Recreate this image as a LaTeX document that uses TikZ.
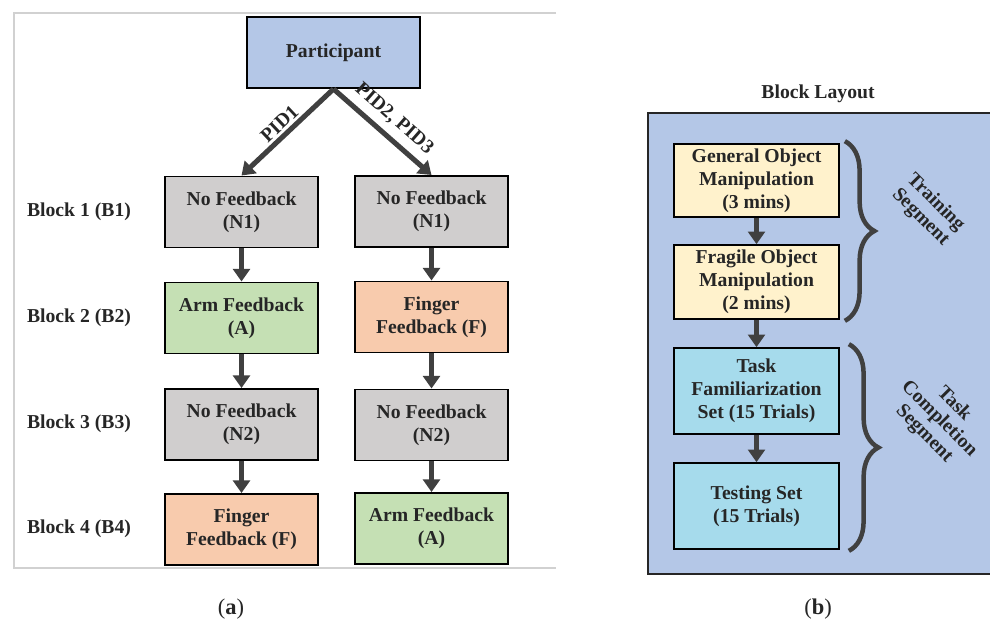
\documentclass[tikz,border=0pt]{standalone}
\usepackage{fontspec}
\setmainfont{Liberation Serif}
\usepackage{tikz}
\usetikzlibrary{arrows.meta, calc, decorations.pathreplacing}

\definecolor{partblue}{HTML}{B4C7E7}
\definecolor{nofbgray}{HTML}{D0CECE}
\definecolor{armgreen}{HTML}{C5E0B4}
\definecolor{fingerorange}{HTML}{F8CBAD}
\definecolor{trainyellow}{HTML}{FFF2CC}
\definecolor{taskcyan}{HTML}{A6DBEC}
\definecolor{arrowgray}{HTML}{404040}
\definecolor{textgray}{HTML}{262626}

\begin{document}
\begin{tikzpicture}[x=0.025cm, y=-0.025cm,
    every node/.style={text=textgray, font=\fontsize{14}{16.5}\selectfont\bfseries, align=center},
    box/.style={draw=black, line width=1.4pt, minimum width=153*0.025cm, minimum height=71*0.025cm, inner sep=1pt},
    stepbox/.style={draw=black, line width=1.2pt, minimum width=165*0.025cm, inner sep=1pt},
    flow/.style={draw=arrowgray, line width=3.6pt, -{Triangle[length=9pt, width=12pt]}},
    curly/.style={draw=arrowgray, line width=3.2pt, decorate, decoration={brace, amplitude=21pt, aspect=0.5}}]

    \useasboundingbox (0,0) rectangle (990,626);

    % Frame of panel (a), open on the right
    \draw[black!18, line width=0.8pt] (556,13) -- (14,13) -- (14,568) -- (556,568);

    % Participant and the two orders of blocks
    \node[box, fill=partblue, minimum width=173*0.025cm] (part) at (333.5,52.5) {Participant};

    \node[box, fill=nofbgray] (l1) at (241.5,212) {No Feedback\\(N1)};
    \node[box, fill=armgreen] (l2) at (241.5,318) {Arm Feedback\\(A)};
    \node[box, fill=nofbgray] (l3) at (241.5,424.5) {No Feedback\\(N2)};
    \node[box, fill=fingerorange] (l4) at (241.5,529.5) {Finger\\Feedback (F)};

    \node[box, fill=nofbgray] (r1) at (431.5,211.5) {No Feedback\\(N1)};
    \node[box, fill=fingerorange] (r2) at (431.5,317) {Finger\\Feedback (F)};
    \node[box, fill=nofbgray] (r3) at (431.5,425) {No Feedback\\(N2)};
    \node[box, fill=armgreen] (r4) at (431.5,528.5) {Arm Feedback\\(A)};

    % Block labels
    \node (b1) at (79,212) {Block 1 (B1)};
    \node (b2) at (79,318) {Block 2 (B2)};
    \node (b3) at (79,424) {Block 3 (B3)};
    \node (b4) at (79,529) {Block 4 (B4)};

    % Arrows
    \draw[flow] (part.south) -- node[sloped, above, inner sep=2pt] {PID1} (l1.north);
    \draw[flow] (part.south) -- node[sloped, above, inner sep=5pt] {PID2, PID3} (r1.north);
    \foreach \a/\b in {l1/l2, l2/l3, l3/l4, r1/r2, r2/r3, r3/r4}
        \draw[flow] (\a.south) -- (\b.north);

    \node[font=\fontsize{16}{18}\selectfont] (capa) at (231,609) {(\textbf{a})};

    % Panel (b): block layout
    \node (title) at (818,94) {Block Layout};
    \fill[partblue] (648,113) rectangle (995,574);
    \draw[black!85, line width=1.2pt] (995,113) -- (648,113) -- (648,574) -- (995,574);

    \node[stepbox, fill=trainyellow, minimum height=73*0.025cm] (gen) at (756.5,180.5) {General Object\\Manipulation\\(3 mins)};
    \node[stepbox, fill=trainyellow, minimum height=74*0.025cm] (frag) at (756.5,282) {Fragile Object\\Manipulation\\(2 mins)};
    \node[stepbox, fill=taskcyan, minimum height=86*0.025cm] (fam) at (756.5,391) {Task\\Familiarization\\Set (15 Trials)};
    \node[stepbox, fill=taskcyan, minimum height=86*0.025cm] (test) at (756.5,506) {Testing Set\\(15 Trials)};

    \draw[flow] (gen) -- (frag);
    \draw[flow] (frag) -- (fam);
    \draw[flow] (fam) -- (test);

    % Braces and segment names
    \draw[curly] ($(gen.north east)+(5,-2)$) -- ($(frag.south east)+(5,1)$);
    \draw[curly] ($(fam.north east)+(9,-3)$) -- ($(test.south east)+(9,1)$);
    \node[rotate=-45, font=\fontsize{14}{15}\selectfont\bfseries] (train) at (928,210) {Training\\Segment};
    \node[rotate=-45, font=\fontsize{14}{15}\selectfont\bfseries] (task) at (939,419) {Task\\Completion\\Segment};

    \node[font=\fontsize{16}{18}\selectfont] (capb) at (818,609) {(\textbf{b})};

\end{tikzpicture}
\end{document}
